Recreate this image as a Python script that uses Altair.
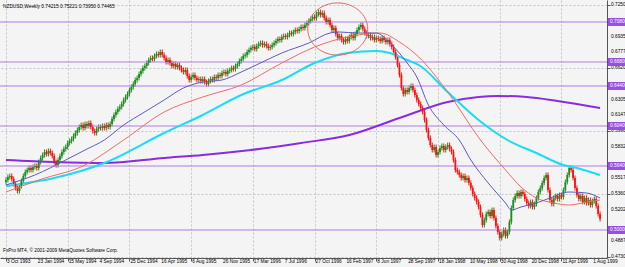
import altair as alt
import pandas as pd

# ---------------- data ----------------
title_text = "NZDUSD,Weekly  0.74215 0.75221 0.73950 0.74465"
copyright_text = "FxPro MT4, \u00a9 2001-2009 MetaQuotes Software Corp."

# weekly closes, 3 Oct 1993 .. 29 Aug 1999
closes = [
    .550, .553, .554, .551, .546, .542, .539, .544, .549, .554,
    .558, .560, .562, .560, .563, .564, .562, .568, .572, .575,
    .578, .576, .579, .577, .574, .568, .565, .570, .574, .578,
    .581, .583, .587, .589, .591, .594, .597, .600, .603, .605,
    .602, .606, .604, .607, .603, .599, .597, .601, .603, .602,
    .604, .602, .605, .603, .606, .611, .615, .618, .621, .623,
    .626, .630, .633, .636, .640, .643, .646, .650, .652, .656,
    .659, .662, .664, .667, .670, .672, .671, .674, .676, .675,
    .678, .675, .672, .668, .670, .667, .664, .666, .663, .665,
    .662, .660, .658, .660, .654, .650, .653, .655, .652, .650,
    .651, .649, .651, .648, .646, .649, .651, .650, .653, .652,
    .655, .654, .657, .658, .656, .659, .660, .662, .661, .664,
    .666, .669, .671, .674, .675, .678, .680, .682, .683, .681,
    .684, .686, .687, .685, .686, .684, .682, .683, .685, .687,
    .689, .691, .690, .693, .694, .693, .695, .697, .696, .698,
    .700, .699, .701, .703, .702, .705, .707, .709, .711, .713,
    .712, .716, .718, .715, .717, .712, .708, .710, .705, .700,
    .702, .696, .692, .694, .690, .688, .691, .689, .693, .695,
    .692, .696, .700, .703, .705, .701, .697, .694, .695, .692,
    .693, .690, .692, .691, .689, .692, .690, .688, .690, .686,
    .683, .678, .673, .665, .655, .642, .636, .640, .638, .642,
    .644, .640, .635, .630, .626, .622, .618, .610, .600, .592,
    .585, .580, .583, .575, .578, .582, .584, .580, .583, .585,
    .581, .578, .570, .560, .558, .555, .552, .554, .550, .552,
    .547, .542, .536, .532, .528, .523, .515, .505, .510, .516,
    .518, .514, .520, .512, .504, .498, .492, .496, .500, .494,
    .498, .508, .522, .530, .534, .537, .534, .538, .536, .531,
    .527, .524, .528, .523, .526, .532, .538, .542, .547, .552,
    .555, .540, .530, .526, .532, .534, .531, .535, .533, .540,
    .548, .555, .562, .560, .552, .542, .535, .531, .534, .528,
    .532, .527, .530, .525, .529, .531, .524, .516, .511,
]
first_open = 0.548
wick = 0.0025

date_labels = [
    "3 Oct 1993", "23 Jan 1994", "15 May 1994", "4 Sep 1994", "25 Dec 1994",
    "16 Apr 1995", "6 Aug 1995", "26 Nov 1995", "17 Mar 1996", "7 Jul 1996",
    "27 Oct 1996", "16 Feb 1997", "8 Jun 1997", "28 Sep 1997", "18 Jan 1998",
    "10 May 1998", "30 Aug 1998", "20 Dec 1998", "11 Apr 1999", "1 Aug 1999",
]
label_weeks = [16 * i for i in range(len(date_labels))]

price_ticks = [0.72500, 0.70925, 0.69350, 0.67775, 0.66200, 0.64625, 0.63050,
               0.61475, 0.59900, 0.58325, 0.56750, 0.55175, 0.53600, 0.52025,
               0.50450, 0.48875, 0.47300]

level_prices = [0.7080, 0.6680, 0.6440, 0.6040, 0.5640, 0.5000]

blue_weeks = [0, 15, 31, 41, 51, 61, 71, 82, 92, 102, 112, 122, 133, 143, 157,
              168, 173, 182, 192, 199, 208, 213, 219, 227, 235, 241, 250, 259,
              262, 267, 275, 282, 292, 301, 308]
blue_prices = [.545, .555, .570, .580, .590, .605, .617, .630, .642, .648, .650,
               .658, .668, .677, .687, .697, .698, .697, .697, .687, .667, .653,
               .625, .605, .590, .570, .547, .527, .520, .523, .527, .532, .538,
               .537, .532]

red_weeks = [0, 17, 41, 61, 82, 102, 122, 143, 160, 177, 194, 204, 214, 229,
             246, 259, 267, 275, 284, 292, 301, 308]
red_prices = [.538, .550, .565, .590, .618, .633, .645, .667, .683, .693, .697,
              .688, .673, .638, .590, .560, .543, .532, .527, .525, .528, .530]

cyan_weeks = [0, 25, 51, 82, 102, 122, 143, 160, 177, 192, 199, 208, 214, 229,
              245, 260, 275, 289, 296, 308]
cyan_prices = [.544, .552, .567, .597, .615, .635, .650, .667, .677, .679, .677,
               .670, .665, .638, .610, .590, .577, .565, .562, .555]

purple_weeks = [0, 25, 51, 82, 102, 127, 153, 178, 204, 229, 245, 255, 270,
                286, 308]
purple_prices = [.570, .568, .567, .572, .575, .580, .587, .595, .612, .628,
                 .633, .634, .633, .629, .622]

circle_week = 172
circle_price = 0.701

# ---------------- build tables ----------------
opens = [first_open] + closes[:-1]
candles = pd.DataFrame({"week": list(range(len(closes))), "open": opens, "close": closes})
candles["high"] = candles[["open", "close"]].max(axis=1) + wick
candles["low"] = candles[["open", "close"]].min(axis=1) - wick
candles["dir"] = ["up" if c >= o else "down" for o, c in zip(opens, closes)]

FONT = "Liberation Sans"
FS = 4.8
xscale = alt.Scale(domain=[-0.5, 309.0], nice=False, zero=False)
yscale = alt.Scale(domain=[0.472, 0.730], nice=False, zero=False)

x_axis = alt.Axis(
    values=label_weeks, labels=False,
    tickSize=3, tickColor="#555555", domainColor="#555555",
    grid=True, gridColor="#c4c4c4", gridDash=[2, 2], zindex=0,
)
y_axis = alt.Axis(
    orient="right", values=price_ticks, labels=False,
    tickSize=3, tickColor="#555555", domainColor="#555555",
    grid=True, gridColor="#c4c4c4", gridDash=[2, 2], zindex=0,
)

dir_color = alt.Color("dir:N", scale=alt.Scale(domain=["up", "down"], range=["#1e8c1e", "#ff1010"]), legend=None)

base = alt.Chart(candles)
wicks = base.mark_rule(strokeWidth=1, clip=True).encode(
    x=alt.X("week:Q", scale=xscale, axis=x_axis, title=None),
    y=alt.Y("low:Q", scale=yscale, axis=y_axis, title=None),
    y2="high:Q",
    color=dir_color,
)
bodies = base.mark_bar(size=1.8, clip=True).encode(
    x="week:Q", y="open:Q", y2="close:Q", color=dir_color,
)

# axis texts as marks so that none is dropped
dates_df = pd.DataFrame({"week": label_weeks, "label": date_labels})
date_txt = alt.Chart(dates_df).mark_text(
    align="left", baseline="middle", fontSize=FS, font=FONT, color="#000000", dx=1, clip=False,
).encode(x="week:Q", y=alt.value(262), text="label:N")

# price labels hidden under a level box are not shown (as in the reference)
ticks_df = pd.DataFrame({"price": price_ticks})
ticks_df["covered"] = [min(abs(p - lv) for lv in level_prices) < 0.0045 for p in price_ticks]
price_txt = alt.Chart(ticks_df).transform_filter("!datum.covered").mark_text(
    align="left", baseline="middle", fontSize=FS, font=FONT, color="#000000", clip=False,
).encode(x=alt.value(611), y="price:Q", text=alt.Text("price:Q", format=".5f"))

levels_df = pd.DataFrame({"price": level_prices})
levels = alt.Chart(levels_df).mark_rule(color="#b07fe6", strokeWidth=1).encode(y="price:Q")
level_box = alt.Chart(levels_df).mark_point(
    shape="M-1,-0.4H1V0.4H-1Z", size=400, filled=True, opacity=1,
    color="#9a4fe3", clip=False,
).encode(x=alt.value(618), y="price:Q")
level_txt = alt.Chart(levels_df).mark_text(
    align="left", baseline="middle", fontSize=FS, font=FONT, color="#ffffff", clip=False,
).encode(x=alt.value(610), y="price:Q", text=alt.Text("price:Q", format=".5f"))


def ma(weeks, prices, color, width):
    d = pd.DataFrame({"week": weeks, "price": prices})
    return alt.Chart(d).mark_line(color=color, strokeWidth=width, interpolate="monotone", clip=True).encode(
        x="week:Q", y="price:Q")


purple = ma(purple_weeks, purple_prices, "#8a2be2", 2)
cyan = ma(cyan_weeks, cyan_prices, "#19dcf5", 2)
red = ma(red_weeks, red_prices, "#f06a6a", 1)
blue = ma(blue_weeks, blue_prices, "#5c5cbf", 1)

circle = alt.Chart(pd.DataFrame({"week": [circle_week], "price": [circle_price]})).mark_point(
    shape="M-1,0A1,0.87,0,1,1,1,0A1,0.87,0,1,1,-1,0Z", size=3600, filled=False,
    color="#e06a6a", strokeWidth=1, opacity=1,
).encode(x="week:Q", y="price:Q")

title_mark = alt.Chart(pd.DataFrame({"t": [title_text]})).mark_text(
    align="left", baseline="middle", fontSize=FS, font=FONT, color="#000000",
).encode(x=alt.value(3), y=alt.value(7), text="t:N")
copy_mark = alt.Chart(pd.DataFrame({"t": [copyright_text]})).mark_text(
    align="left", baseline="middle", fontSize=FS, font=FONT, color="#000000",
).encode(x=alt.value(3), y=alt.value(251), text="t:N")

chart = alt.layer(
    wicks, levels, purple, cyan, bodies, red, blue, circle,
    price_txt, date_txt, level_box, level_txt, title_mark, copy_mark,
).properties(
    width=607, height=258,
    autosize=alt.AutoSizeParams(type="none"),
    padding={"left": 0, "top": 0, "right": 18, "bottom": 9},
    background="#f4f4f4",
).configure_view(stroke=None)

chart.save("out.html", embed_options={"renderer": "svg", "actions": False})
